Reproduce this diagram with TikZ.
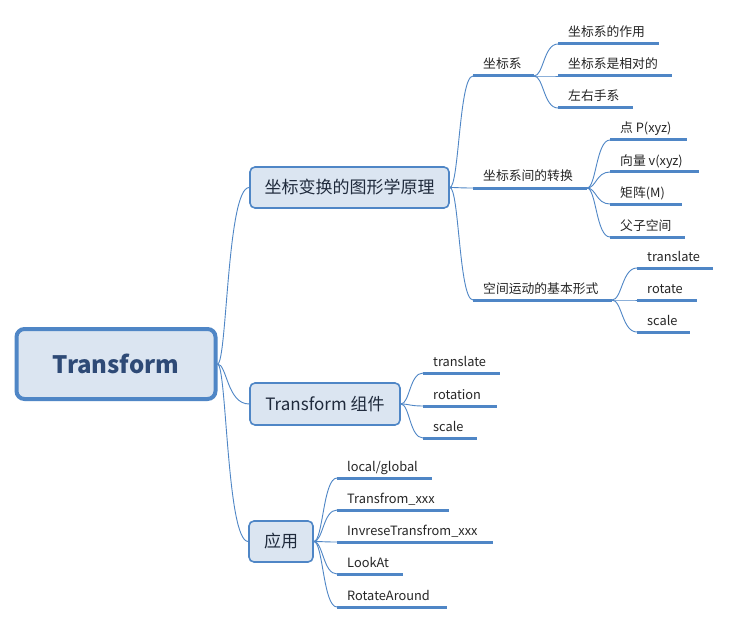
\documentclass[tikz,border=0pt]{standalone}
\usepackage{fontspec}
\setmainfont{Noto Sans CJK SC}
\usetikzlibrary{calc}
\definecolor{lineblue}{HTML}{4F86C6}
\definecolor{boxfill}{HTML}{DBE5F1}
\definecolor{roottext}{HTML}{2E4A76}
\definecolor{branchtext}{HTML}{1F2A3C}
\tikzset{
  rootbox/.style={draw=lineblue, line width=4pt, fill=boxfill, rounded corners=8pt,
    text=roottext, font=\fontsize{24}{28}\selectfont\bfseries, inner sep=0pt},
  branchbox/.style={draw=lineblue, line width=1.6pt, fill=boxfill, rounded corners=5pt,
    text=branchtext, font=\fontsize{17}{20}\selectfont, inner sep=0pt},
  leaftext/.style={font=\fontsize{12.8}{15}\selectfont, text=black!85, inner sep=0pt},
  ul/.style={draw=lineblue, line width=3pt},
  conn/.style={draw=lineblue, line width=0.9pt},
}
\newcommand\leaf[5]{%
  \coordinate (#1-a) at (#2,#4);
  \coordinate (#1-b) at (#3,#4);
  \node[leaftext, anchor=base west] (#1) at (#2+10,#4-7) {#5};
  \draw[ul] (#1-a) -- (#1-b);
}
\newcommand\linkto[3][0.4]{%
  \draw[conn] let \p1=(#2), \p2=(#3) in
    (\p1) .. controls ({\x1+#1*(\x2-\x1)},\y1) and ({\x1+#1*(\x2-\x1)},\y2) .. (\p2);
}
\begin{document}
\begin{tikzpicture}[x=1pt,y=-1pt]
\useasboundingbox (0,0) rectangle (731,623);
\fill[white] (0,0) rectangle (731,623);

% main nodes
\node[rootbox, minimum width=199pt, minimum height=70pt] (root) at (116,364) {Transform};
\node[branchbox, minimum width=199pt, minimum height=41pt] (b1) at (349.5,187.5) {坐标变换的图形学原理};
\node[branchbox, minimum width=150pt, minimum height=42pt] (b2) at (325,404) {Transform 组件};
\node[branchbox, minimum width=64pt, minimum height=41pt] (b3) at (281,541.5) {应用};

% level 2 under b1
\leaf{n1}{473}{534}{76}{坐标系}
\leaf{n2}{473}{587}{188}{坐标系间的转换}
\leaf{n3}{473}{612}{300}{空间运动的基本形式}

% children of n1
\leaf{c11}{558}{659}{44}{坐标系的作用}
\leaf{c12}{558}{672}{76}{坐标系是相对的}
\leaf{c13}{558}{633}{108}{左右手系}

% children of n2
\leaf{c21}{610}{687}{140}{点 P(xyz)}
\leaf{c22}{610}{699}{172}{向量 v(xyz)}
\leaf{c23}{610}{682}{204}{矩阵(M)}
\leaf{c24}{610}{685}{237}{父子空间}

% children of n3
\leaf{c31}{637}{713}{268}{translate}
\leaf{c32}{637}{697}{300}{rotate}
\leaf{c33}{637}{690}{332}{scale}

% children of b2
\leaf{d1}{423}{500}{373}{translate}
\leaf{d2}{423}{497}{406}{rotation}
\leaf{d3}{423}{477}{438}{scale}

% children of b3
\leaf{e1}{337}{432}{478}{local/global}
\leaf{e2}{337}{449}{510}{Transfrom\_xxx}
\leaf{e3}{337}{493}{542}{InvreseTransfrom\_xxx}
\leaf{e4}{337}{403}{574}{LookAt}
\leaf{e5}{337}{447}{607}{RotateAround}

% connectors
\linkto[0.3]{root.east}{b1.west}
\linkto[0.3]{root.east}{b2.west}
\linkto[0.3]{root.east}{b3.west}

\linkto{b1.east}{n1-a}
\linkto{b1.east}{n2-a}
\linkto{b1.east}{n3-a}

\linkto{n1-b}{c11-a}
\linkto{n1-b}{c12-a}
\linkto{n1-b}{c13-a}

\linkto{n2-b}{c21-a}
\linkto{n2-b}{c22-a}
\linkto{n2-b}{c23-a}
\linkto{n2-b}{c24-a}

\linkto{n3-b}{c31-a}
\linkto{n3-b}{c32-a}
\linkto{n3-b}{c33-a}

\linkto{b2.east}{d1-a}
\linkto{b2.east}{d2-a}
\linkto{b2.east}{d3-a}

\linkto{b3.east}{e1-a}
\linkto{b3.east}{e2-a}
\linkto{b3.east}{e3-a}
\linkto{b3.east}{e4-a}
\linkto{b3.east}{e5-a}
\end{tikzpicture}
\end{document}
